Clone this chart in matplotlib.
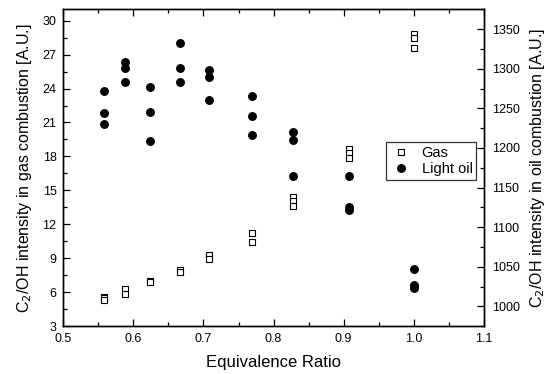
import matplotlib
matplotlib.use("Agg")
import matplotlib.pyplot as plt
from matplotlib.ticker import MultipleLocator, FormatStrFormatter

plt.rcParams['font.family'] = ['Liberation Sans', 'DejaVu Sans']

# Gas combustion (left axis)
gas_x = [0.558, 0.558, 0.558, 0.588, 0.588, 0.623, 0.623, 0.667, 0.667,
         0.708, 0.708, 0.769, 0.769, 0.828, 0.828, 0.828,
         0.908, 0.908, 0.908, 1.0, 1.0, 1.0]
gas_y = [5.6, 5.5, 5.35, 6.26, 5.81, 7.02, 6.9, 7.97, 7.76,
         9.3, 8.92, 11.23, 10.4, 14.45, 14.05, 13.65,
         18.65, 18.3, 17.9, 28.8, 28.5, 27.6]

# Light oil combustion (right axis)
oil_x = [0.558, 0.558, 0.558, 0.588, 0.588, 0.588, 0.623, 0.623, 0.623,
         0.667, 0.667, 0.667, 0.708, 0.708, 0.708, 0.769, 0.769, 0.769,
         0.828, 0.828, 0.828, 0.908, 0.908, 0.908, 1.0, 1.0, 1.0]
oil_y = [1272, 1244, 1230, 1308, 1301, 1283, 1277, 1245, 1209,
         1333, 1301, 1283, 1298, 1290, 1261, 1266, 1240, 1216,
         1220, 1210, 1164, 1165, 1126, 1122, 1047, 1027, 1023]

fig = plt.figure(figsize=(5.56, 3.74), dpi=100)
ax = fig.add_axes([0.114, 0.128, 0.756, 0.847])
ax2 = ax.twinx()

h1, = ax.plot(gas_x, gas_y, linestyle='none', marker='s', markersize=3.8,
              markerfacecolor='white', markeredgecolor='black',
              markeredgewidth=0.8, label='Gas')
h2, = ax2.plot(oil_x, oil_y, linestyle='none', marker='o', markersize=5.4,
               color='black', label='Light oil')

ax.set_xlim(0.5, 1.1)
ax.set_ylim(3, 31)
ax2.set_ylim(975, 1375)

ax.xaxis.set_major_locator(MultipleLocator(0.1))
ax.xaxis.set_minor_locator(MultipleLocator(0.05))
ax.xaxis.set_major_formatter(FormatStrFormatter('%.1f'))
ax.yaxis.set_major_locator(MultipleLocator(3))
ax.yaxis.set_minor_locator(MultipleLocator(1.5))
ax2.yaxis.set_major_locator(MultipleLocator(50))
ax2.yaxis.set_minor_locator(MultipleLocator(25))

ax.tick_params(which='both', direction='in', top=True, right=False,
               labelsize=9, width=0.9, pad=5)
ax.tick_params(which='major', length=5)
ax.tick_params(which='minor', length=3)
ax2.tick_params(which='both', direction='in', labelsize=9, width=0.9, pad=6)
ax2.tick_params(which='major', length=5)
ax2.tick_params(which='minor', length=3)

for a in (ax, ax2):
    for s in a.spines.values():
        s.set_linewidth(1.0)

ax.set_xlabel('Equivalence Ratio', fontsize=12, labelpad=7)
ax.set_ylabel('C$_2$/OH intensity in gas combustion [A.U.]', fontsize=11.5,
              labelpad=6)
ax2.set_ylabel('C$_2$/OH intensity in oil combustion [A.U.]', fontsize=11.5,
               labelpad=6)

leg = ax.legend(handles=[h1, h2], loc='upper left',
                bbox_to_anchor=(0.767, 0.58), fontsize=10.5,
                frameon=True, fancybox=False, edgecolor='black',
                borderpad=0.25, handletextpad=0.6, handlelength=1.6,
                labelspacing=0.15, borderaxespad=0)
leg.get_frame().set_linewidth(0.9)

fig.savefig('out.png', dpi=100)
